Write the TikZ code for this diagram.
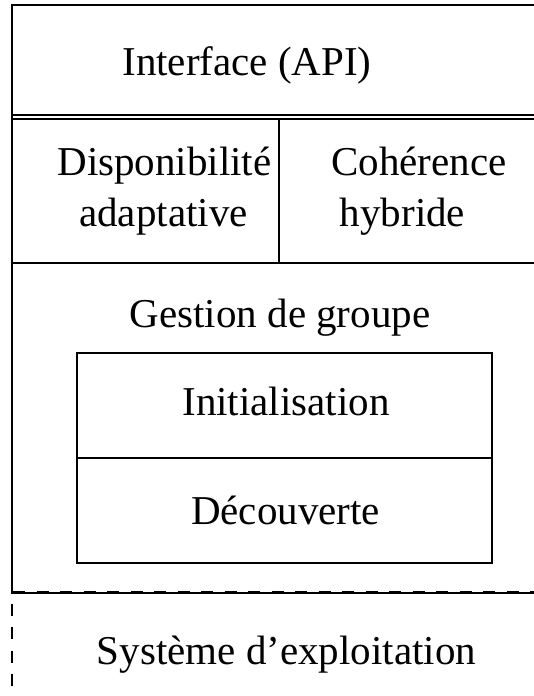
\documentclass[tikz,border=0pt]{standalone}
\usepackage{fontspec}
\setmainfont{Liberation Serif}

\begin{document}
\begin{tikzpicture}[x=1pt,y=1pt,
    layer/.style={font={\fontsize{41}{49}\selectfont},inner sep=0pt,anchor=base},
    wall/.style={line width=1.2pt},
    osline/.style={line width=1.1pt,dash pattern=on 12pt off 11.5pt}]
\useasboundingbox (0,0) rectangle (534,696);

% couches du haut
\draw[wall](534,691)--(12,691)--(12,103)--(534,103);
\draw[wall](12,581)--(534,581);
\draw[wall](12,577)--(534,577);
\draw[wall](279,577)--(279,433);
\draw[wall](12,433)--(534,433);

% gestion de groupe
\draw[wall](77,343) rectangle (492,133);
\draw[wall](77,238)--(492,238);

% systeme
\draw[osline](13,104.5)--(534,104.5);
\draw[osline](12,92)--(12,0);

\node[layer] (api) at (247,620) {Interface (API)};
\node[layer] (dispo) at (164.5,520) {Disponibilité};
\node[layer] (adapt) at (163.5,469) {adaptative};
\node[layer] (coher) at (419,520) {Cohérence};
\node[layer] (hybr) at (402.5,469) {hybride};
\node[layer] (gest) at (280,368) {Gestion de groupe};
\node[layer] (init) at (286,280) {Initialisation};
\node[layer] (decouv) at (285.5,171) {Découverte};
\node[layer] (sys) at (286.5,31) {Système d’exploitation};

\end{tikzpicture}
\end{document}
